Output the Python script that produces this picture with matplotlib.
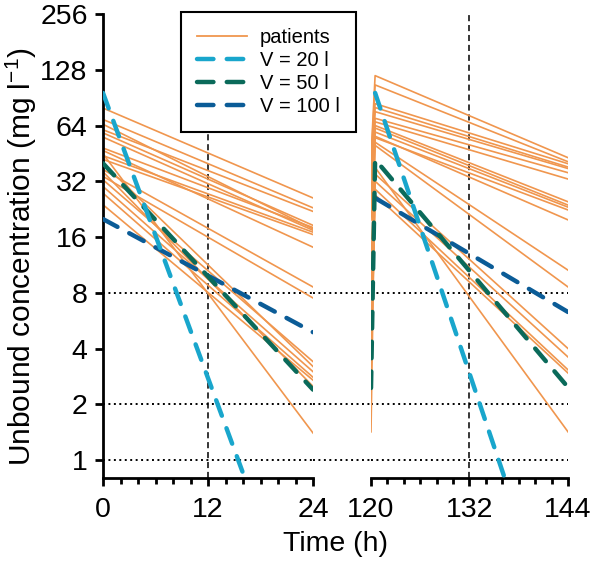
import matplotlib
matplotlib.use('Agg')
import matplotlib.pyplot as plt
import matplotlib.transforms as mtransforms
from matplotlib.lines import Line2D
from matplotlib.ticker import FixedLocator, MultipleLocator, NullLocator

plt.rcParams['font.family'] = ['Liberation Sans', 'DejaVu Sans']
plt.rcParams['mathtext.fontset'] = 'custom'
plt.rcParams['mathtext.rm'] = 'Liberation Sans'
plt.rcParams['mathtext.it'] = 'Liberation Sans:italic'
plt.rcParams['mathtext.bf'] = 'Liberation Sans:bold'

# ---------------- data ----------------
# first dose (0-24 h): concentration at 0 h and at 24 h for each patient
left_times = [0, 24]
left_start = [79.5, 69, 60.7, 65, 58.4, 55.4, 48.4, 46.9, 44, 42, 37, 34, 45, 32.6, 30, 27.6, 23.9, 40, 36]
left_end = [26, 23, 22, 17.7, 18.5, 17.4, 18, 14.1, 17.0, 16.5, 8.6, 7.5, 1.4, 3.4, 3.0, 2.8, 2.7, 3.2, 2.5]

# steady state (120-144 h): trough at 120 h, peak at 120.5 h, value at 144 h
right_times = [120, 120.5, 144]
right_peak = [119, 106, 84, 80, 76, 70, 67, 64, 62, 59, 55, 56, 52, 50, 38, 35, 32, 29, 27]
right_end = [42.9, 40.8, 39.8, 38.2, 37.5, 35.6, 32.9, 24.8, 23.8, 23.2, 22.4, 19.8, 10.6, 8.6, 1.42, 4.0, 3.6, 3.07, 2.95]
right_trough = [42.9, 40.8, 39.8, 38.2, 37.5, 35.6, 32.9, 24.8, 23.8, 23.2, 22.4, 19.8, 10.6, 8.6, 1.42, 4.0, 3.6, 3.07, 2.95]

# model profiles for three volumes of distribution
v_labels = ['V = 20 l', 'V = 50 l', 'V = 100 l']
v20_left = [96, 0.08]
v50_left = [40, 2.4]
v100_left = [20, 4.9]
v20_right_times = [120.5, 144]
v20_right = [96, 0.077]
v50_right_times = [120, 120.5, 144]
v50_right = [2.45, 42, 2.47]
v100_right_times = [120.5, 144]
v100_right = [26, 6.3]

y_ticks = [1, 2, 4, 8, 16, 32, 64, 128, 256]
ref_levels = [1, 2, 8]
ref_times_left = [12]
ref_times_right = [132]

# ---------------- style ----------------
c_pat = '#F0964E'
c_v20 = '#19A6CC'
c_v50 = '#0A6A5A'
c_v100 = '#0B5C97'
DLW = 3.2
DASH = (3.7, 3.0)
FS = 20.5

W, H = 592, 562
fig = plt.figure(figsize=(W / 100, H / 100), dpi=100)
ax1 = fig.add_axes([103 / W, 84 / H, 210 / W, 464 / H])
ax2 = fig.add_axes([371 / W, 84 / H, 197 / W, 464 / H])

for ax in (ax1, ax2):
    ax.set_yscale('log', base=2)
    ax.set_ylim(0.8, 256)
    for sp in ('top', 'right'):
        ax.spines[sp].set_visible(False)
    ax.spines['bottom'].set_linewidth(2.0)
    ax.spines['left'].set_linewidth(2.0)
    ax.tick_params(axis='x', which='major', direction='out', length=6, width=2.0,
                   labelsize=FS, pad=8)
    ax.tick_params(axis='x', which='minor', direction='out', length=4, width=2.0)
    ax.patch.set_alpha(0)

ax1.set_xlim(0, 24)
ax2.set_xlim(120, 144)
ax1.xaxis.set_major_locator(FixedLocator([0, 12, 24]))
ax1.xaxis.set_minor_locator(MultipleLocator(2))
ax2.xaxis.set_major_locator(FixedLocator([120, 132, 144]))
ax2.xaxis.set_minor_locator(MultipleLocator(2))

ax1.yaxis.set_major_locator(FixedLocator(y_ticks))
ax1.yaxis.set_minor_locator(NullLocator())
ax1.set_yticklabels([str(v) for v in y_ticks])
ax1.tick_params(axis='y', which='major', direction='out', length=6, width=2.0,
                labelsize=FS, pad=5)

ax2.spines['left'].set_visible(False)
ax2.yaxis.set_major_locator(NullLocator())
ax2.yaxis.set_minor_locator(NullLocator())

# reference lines
for ax in (ax1, ax2):
    for lv in ref_levels:
        ax.axhline(lv, color='black', lw=1.4, dashes=(1, 1.8), zorder=1)
trans = mtransforms.blended_transform_factory(fig.transFigure, ax1.transData)
for lv in ref_levels:
    fig.add_artist(Line2D([313 / W, 371 / W], [lv, lv], transform=trans,
                          color='black', lw=1.4, dashes=(1, 1.8)))
for t in ref_times_left:
    ax1.axvline(t, color='black', lw=1.1, dashes=(4, 2.5), zorder=1)
for t in ref_times_right:
    ax2.axvline(t, color='black', lw=1.1, dashes=(4, 2.5), zorder=1)

# patients
for s, e in zip(left_start, left_end):
    ax1.plot(left_times, [s, e], color=c_pat, lw=1.2, zorder=2)
for tr, pk, e in zip(right_trough, right_peak, right_end):
    ax2.plot(right_times, [tr, pk, e], color=c_pat, lw=1.2, zorder=2)

# model profiles
dkw = dict(lw=DLW, dashes=DASH, dash_capstyle='round')
ax1.plot(left_times, v100_left, color=c_v100, zorder=3, **dkw)
ax1.plot(left_times, v50_left, color=c_v50, zorder=3, **dkw)
ax1.plot(left_times, v20_left, color=c_v20, zorder=3, **dkw)
ax2.plot(v100_right_times, v100_right, color=c_v100, zorder=3, **dkw)
ax2.plot(v50_right_times, v50_right, color=c_v50, zorder=3, **dkw)
ax2.plot(v20_right_times, v20_right, color=c_v20, zorder=3, **dkw)

# labels
fig.text(335.5 / W, 1 - 544 / H, 'Time (h)', ha='center', va='center', fontsize=FS)
fig.text(21 / W, 1 - 257 / H, 'Unbound concentration (mg l$^{-1}$)', rotation=90,
         ha='center', va='center', fontsize=21.5)

# legend
handles = [Line2D([], [], color=c_pat, lw=1.3),
           Line2D([], [], color=c_v20, **dkw),
           Line2D([], [], color=c_v50, **dkw),
           Line2D([], [], color=c_v100, **dkw)]
labels = ['patients'] + v_labels
leg = fig.legend(handles, labels, loc='upper left', bbox_to_anchor=(181 / W, 1 - 12 / H),
                 frameon=True, fancybox=False, edgecolor='black', framealpha=1,
                 fontsize=14.5, handlelength=2.5, handletextpad=0.6, borderaxespad=0,
                 borderpad=0.8, labelspacing=0.2)
leg.get_frame().set_linewidth(1.5)

fig.savefig('out.png', dpi=100)
